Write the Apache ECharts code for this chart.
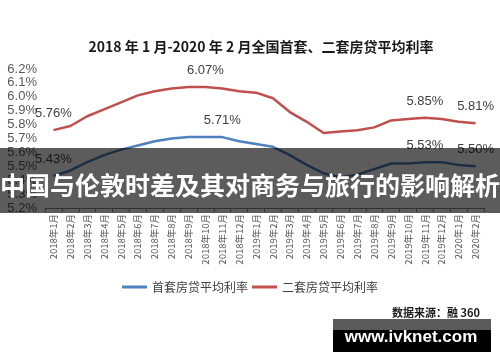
<!DOCTYPE html>
<html><head><meta charset="utf-8">
<script src="https://cdn.jsdelivr.net/npm/echarts@6/dist/echarts.min.js"></script>
<style>html,body{margin:0;padding:0;background:#fff}#c{width:500px;height:362px}</style>
</head><body><div id="c"></div>
<script>
const categories = ['2018年1月','2018年2月','2018年3月','2018年4月','2018年5月','2018年6月','2018年7月','2018年8月','2018年9月','2018年10月','2018年11月','2018年12月',
 '2019年1月','2019年2月','2019年3月','2019年4月','2019年5月','2019年6月','2019年7月','2019年8月','2019年9月','2019年10月','2019年11月','2019年12月','2020年1月','2020年2月'];
const firstHome = [5.43,5.47,5.53,5.58,5.62,5.65,5.68,5.70,5.71,5.71,5.71,5.68,5.66,5.64,5.58,5.51,5.45,5.42,5.44,5.48,5.52,5.52,5.53,5.53,5.51,5.50];
const secondHome = [5.76,5.79,5.86,5.91,5.96,6.01,6.04,6.06,6.07,6.07,6.06,6.04,6.03,5.99,5.89,5.82,5.74,5.75,5.76,5.78,5.83,5.84,5.85,5.84,5.82,5.81];
const firstLabelIdx = [0,10,22,25];
const secondLabelIdx = [0,9,22,25];
const yTicks = {min:5.2, max:6.2, interval:0.1};
const titleText = '2018 年 1 月-2020 年 2 月全国首套、二套房贷平均利率';
const seriesNames = ['首套房贷平均利率','二套房贷平均利率'];
const bannerText = '中国与伦敦时差及其对商务与旅行的影响解析';
const sourceText = '数据来源：融 360';
const siteText = 'www.ivknet.com';

const font = '"Noto Sans CJK SC","Noto Sans",sans-serif';
const labelStyle = {show:true,position:'top',distance:10,formatter:p=>p.value.toFixed(2)+'%',fontSize:13,color:'#404040',fontFamily:'"Liberation Sans",sans-serif'};
function mk(vals, idx){ return vals.map((v,i)=> idx.includes(i) ? {value:v, label:labelStyle} : v); }
const chart = echarts.init(document.getElementById('c'));
chart.setOption({
  animation:false,
  backgroundColor:'#fff',
  textStyle:{fontFamily:font},
  title:{text:titleText,left:256,top:35,textAlign:'center',textStyle:{fontSize:14,fontWeight:'bold',color:'#1a1a1a',fontFamily:font}},
  legend:{data:seriesNames,orient:'horizontal',top:276,left:'center',itemWidth:25,itemHeight:3,itemGap:4,icon:'rect',
    textStyle:{fontSize:12,color:'#404040',fontFamily:font}},
  grid:{left:45,right:16,top:69,bottom:154},
  xAxis:{type:'category',data:categories,boundaryGap:true,
    axisLine:{lineStyle:{color:'#8c8c8c',width:1}},
    axisTick:{show:true,alignWithLabel:false,length:4,lineStyle:{color:'#8c8c8c'}},
    axisLabel:{rotate:90,interval:0,fontSize:9.5,color:'#595959',margin:6,fontFamily:font}},
  yAxis:{type:'value',min:yTicks.min,max:yTicks.max,interval:yTicks.interval,
    axisLine:{show:false},axisTick:{show:false},splitLine:{show:false},
    axisLabel:{formatter:v=>v.toFixed(1)+'%',fontSize:13,color:'#595959',margin:8,fontFamily:'"Liberation Sans",sans-serif'}},
  series:[
    {name:seriesNames[0],type:'line',data:mk(firstHome,firstLabelIdx),symbol:'circle',symbolSize:0,showSymbol:true,smooth:false,
     lineStyle:{color:'#4f81bd',width:2.5},itemStyle:{color:'#4f81bd'}},
    {name:seriesNames[1],type:'line',data:mk(secondHome,secondLabelIdx),symbol:'circle',symbolSize:0,showSymbol:true,smooth:false,
     lineStyle:{color:'#c0504d',width:2.5},itemStyle:{color:'#c0504d'}}
  ],
  graphic:[
    {type:'rect',z:100,shape:{x:0,y:148,width:500,height:65},style:{fill:'rgba(0,0,0,0.64)'}},
    {type:'text',z:101,x:250,y:185,style:{text:bannerText,fill:'#fff',font:'bold 25px "Noto Sans CJK SC"',textAlign:'center',textVerticalAlign:'middle'}},
    {type:'text',z:101,x:480,y:313,style:{text:sourceText,fill:'#1a1a1a',font:'bold 11px "Noto Sans CJK SC"',textAlign:'right',textVerticalAlign:'middle'}},
    {type:'rect',z:100,shape:{x:333,y:319,width:158,height:11},style:{fill:'#5a5a5a'}},
    {type:'rect',z:100,shape:{x:333,y:330,width:158,height:22},style:{fill:'#000'}},
    {type:'text',z:101,x:411,y:337,style:{text:siteText,fill:'#fff',font:'bold 17px "Liberation Sans"',textAlign:'center',textVerticalAlign:'middle'}}
  ]
});
</script></body></html>
